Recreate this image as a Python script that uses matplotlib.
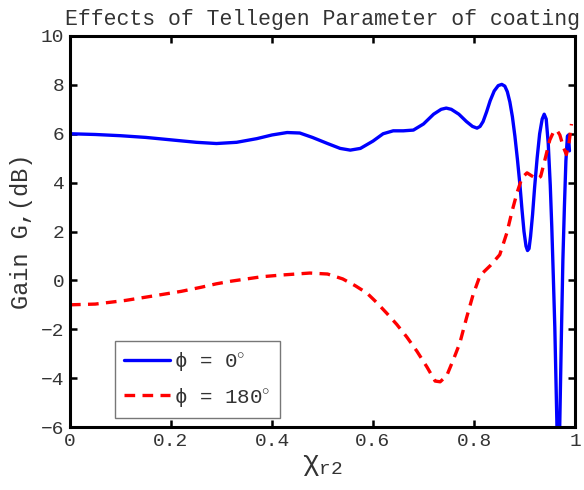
import matplotlib
matplotlib.use("Agg")
import matplotlib.pyplot as plt

plt.rcParams['font.family'] = ['Liberation Mono', 'DejaVu Sans']
plt.rcParams['mathtext.fontset'] = 'custom'
plt.rcParams['mathtext.rm'] = 'Liberation Mono'
plt.rcParams['mathtext.it'] = 'Liberation Mono'

title = "Effects of Tellegen Parameter of coating"
xlabel = r"$\chi_{\mathrm{r2}}$"
ylabel = "Gain G,(dB)"
labels = [r"ϕ = 0$^{\circ}$", r"ϕ = 180$^{\circ}$"]

x_phi0 = [0.00, 0.05, 0.10, 0.15, 0.20, 0.25, 0.29, 0.33, 0.37, 0.40, 0.43, 0.455,
          0.48, 0.51, 0.535, 0.555, 0.575, 0.60, 0.62, 0.64, 0.66, 0.68, 0.70, 0.72,
          0.735, 0.745, 0.755, 0.770, 0.785, 0.797, 0.806, 0.812, 0.818, 0.825, 0.832,
          0.840, 0.848, 0.855, 0.861, 0.866, 0.871, 0.876, 0.881, 0.886, 0.891, 0.895,
          0.899, 0.903, 0.906, 0.909, 0.912, 0.916, 0.920, 0.925, 0.930, 0.935, 0.939,
          0.943, 0.947, 0.951, 0.954, 0.957, 0.960, 0.964, 0.967, 0.970, 0.973, 0.976,
          0.979, 0.982, 0.985, 0.987, 0.989]
y_phi0 = [6.00, 5.97, 5.92, 5.85, 5.75, 5.65, 5.60, 5.65, 5.80, 5.95, 6.05, 6.03,
          5.85, 5.60, 5.40, 5.33, 5.40, 5.70, 6.00, 6.12, 6.12, 6.15, 6.40, 6.80,
          7.00, 7.05, 7.00, 6.80, 6.50, 6.30, 6.23, 6.30, 6.50, 6.90, 7.35,
          7.75, 7.97, 8.02, 7.95, 7.72, 7.30, 6.70, 5.90, 4.95, 3.90, 2.90,
          2.00, 1.40, 1.22, 1.30, 1.80, 2.70, 3.80, 5.00, 6.00, 6.60, 6.80,
          6.60, 5.60, 3.90, 2.20, 0.20, -1.90, -5.70, -9.00, -5.70, -2.30, 0.83,
          3.00, 4.90, 5.90, 5.95, 5.30]

x_phi180 = [0.00, 0.05, 0.11, 0.17, 0.22, 0.26, 0.29, 0.32, 0.38, 0.42, 0.475, 0.51,
            0.54, 0.565, 0.588, 0.607, 0.627, 0.647, 0.667, 0.687, 0.707, 0.723, 0.733,
            0.746, 0.76, 0.772, 0.785, 0.798, 0.812, 0.832, 0.851, 0.865, 0.875, 0.885,
            0.895, 0.905, 0.914, 0.925, 0.932, 0.940, 0.950, 0.958, 0.964, 0.970, 0.977,
            0.983, 0.988, 0.993]
y_phi180 = [-1.00, -0.97, -0.82, -0.62, -0.45, -0.28, -0.14, -0.03, 0.15, 0.22, 0.30, 0.26,
            0.06, -0.22, -0.52, -0.90, -1.34, -1.80, -2.32, -2.90, -3.55, -4.12, -4.15,
            -3.90, -3.20, -2.56, -1.55, -0.60, 0.20, 0.60, 1.05, 1.94, 2.80, 3.57,
            4.20, 4.40, 4.28, 4.15, 4.25, 4.90, 5.74, 6.10, 6.15, 5.95, 5.45,
            5.15, 5.60, 6.40]

xticks = [0, 0.2, 0.4, 0.6, 0.8, 1]
xticklabels = ["0", "0.2", "0.4", "0.6", "0.8", "1"]
yticks = [-6, -4, -2, 0, 2, 4, 6, 8, 10]

fig = plt.figure(figsize=(5.84, 4.90), dpi=100)
ax = fig.add_axes([70/584, 63/490, 505/584, 391/490])

ax.plot(x_phi0, y_phi0, color='#0000ff', lw=2.4, label=labels[0],
        solid_joinstyle='round', solid_capstyle='round')
ax.plot(x_phi180, y_phi180, color='#ff0000', lw=2.4, linestyle=(0, (3.2, 2.2)),
        label=labels[1])

ax.set_xlim(0, 1)
ax.set_ylim(-6, 10)
ax.set_xticks(xticks)
ax.set_xticklabels(xticklabels)
ax.set_yticks(yticks)
ax.tick_params(direction='in', length=5, width=1.8, top=True, right=True,
               labelsize=14, labelcolor='#333333', pad=4)
for s in ax.spines.values():
    s.set_linewidth(2.2)

ax.set_title(title, fontsize=15.5, color='#333333', pad=8)
ax.set_xlabel(xlabel, fontsize=20, color='#333333', labelpad=2)
ax.set_ylabel(ylabel, fontsize=17, color='#333333', labelpad=6)

leg = ax.legend(loc='lower left', bbox_to_anchor=(0.089, 0.023), borderaxespad=0,
                fontsize=15, frameon=True, fancybox=False, handlelength=2.2,
                handletextpad=0.2, labelspacing=0.6, borderpad=0.45)
leg.get_frame().set_edgecolor('#555555')
leg.get_frame().set_linewidth(1.0)
for t in leg.get_texts():
    t.set_color('#333333')

fig.savefig("out.png", dpi=100)
